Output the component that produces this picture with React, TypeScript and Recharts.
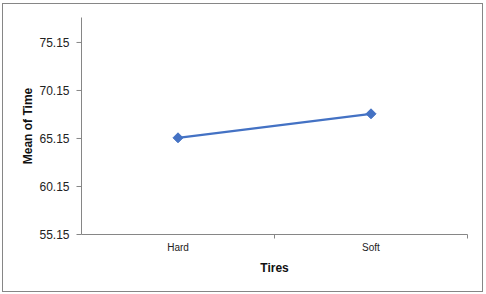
import React from 'react';
import { LineChart, Line, XAxis, YAxis } from 'recharts';

// chart values
const tires = ['Hard', 'Soft'];
const meanOfTime = [65.22, 67.72];
const yTicks = [55.15, 60.15, 65.15, 70.15, 75.15];
const yDomain = [55.15, 77.75];

const data = tires.map((t, i) => ({ tire: t, mean: meanOfTime[i] }));

const W = 486;
const H = 294;
const axisColor = '#868686';
const lineColor = '#4472C4';
const font = '"Liberation Sans", Arial, sans-serif';
const plotLeft = 81.5;
const plotRight = 467.5;
const half = (plotRight - plotLeft) / tires.length / 2;

const Diamond = (props: any) => {
  const { cx, cy } = props;
  if (cx == null || cy == null) return null;
  const r = 5;
  return (
    <polygon
      points={`${cx},${cy - r} ${cx + r},${cy} ${cx},${cy + r} ${cx - r},${cy}`}
      fill={lineColor}
      stroke={lineColor}
      strokeWidth={1}
    />
  );
};

// category label at band centre, tick marks at band boundaries (Excel style)
const XTick = (props: any) => {
  const { x, y, payload } = props;
  return (
    <g>
      <line x1={x + half} x2={x + half} y1={y} y2={y + 4} stroke={axisColor} />
      <text x={x} y={y + 16.5} textAnchor="middle" fontSize={10} fill="#222" fontFamily={font}>
        {payload.value}
      </text>
    </g>
  );
};

export default function App() {
  return (
    <div style={{ position: 'absolute', left: 0, top: 0, width: W, height: H, background: '#fff' }}>
      <LineChart
        width={W}
        height={H}
        data={data}
        margin={{ top: 17.5, right: W - plotRight, bottom: 0, left: 0.5 }}
      >
        <XAxis
          dataKey="tire"
          height={59.5}
          padding={{ left: half, right: half }}
          axisLine={{ stroke: axisColor }}
          tickLine={false}
          tickSize={0}
          tickMargin={0}
          tick={<XTick />}
          interval={0}
          label={{
            content: ({ viewBox }: any) => (
              <text
                x={viewBox.x + viewBox.width / 2}
                y={271.5}
                textAnchor="middle"
                fontSize={12}
                fontWeight="bold"
                fill="#111"
                fontFamily={font}
              >
                Tires
              </text>
            ),
          }}
        />
        <YAxis
          width={81}
          domain={yDomain}
          ticks={yTicks}
          allowDecimals
          axisLine={{ stroke: axisColor }}
          tickLine={{ stroke: axisColor }}
          tickSize={5}
          tickMargin={7}
          tickFormatter={(v: number) => v.toFixed(2)}
          tick={{ fontSize: 12, fill: '#222', fontFamily: font }}
          label={{
            content: ({ viewBox }: any) => {
              const cx = 32;
              const cy = viewBox.y + viewBox.height / 2;
              return (
                <text
                  x={cx}
                  y={cy}
                  transform={`rotate(-90 ${cx} ${cy})`}
                  textAnchor="middle"
                  fontSize={12}
                  fontWeight="bold"
                  fill="#111"
                  fontFamily={font}
                >
                  Mean of Time
                </text>
              );
            },
          }}
        />
        <Line
          dataKey="mean"
          stroke={lineColor}
          strokeWidth={2.25}
          dot={<Diamond />}
          activeDot={false}
          isAnimationActive={false}
        />
      </LineChart>
      <div
        style={{
          position: 'absolute',
          left: 2,
          top: 3,
          width: 481,
          height: 289,
          border: '1px solid ' + axisColor,
          boxSizing: 'border-box',
          pointerEvents: 'none',
        }}
      />
    </div>
  );
}
